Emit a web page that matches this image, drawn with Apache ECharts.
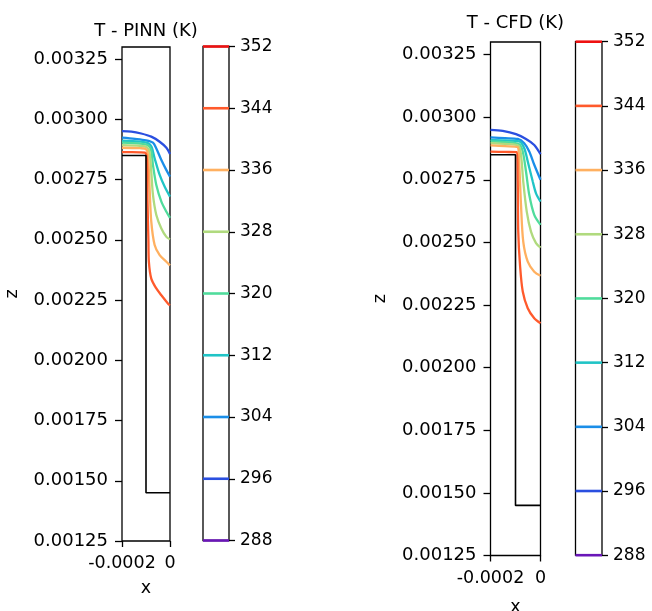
<!DOCTYPE html>
<html>
<head>
<meta charset="utf-8">
<script src="https://cdn.jsdelivr.net/npm/echarts@6/dist/echarts.min.js"></script>
<style>
html,body{margin:0;padding:0;background:#fff;}
#chart{width:652px;height:611px;}
</style>
</head>
<body>
<div id="chart"></div>
<script>
// ---------- data ----------
const titles = ['T - PINN (K)', 'T - CFD (K)'];
const xTicks = [-0.0002, 0];
const zTicks = [0.00125, 0.0015, 0.00175, 0.002, 0.00225, 0.0025, 0.00275, 0.003, 0.00325];
const cbarLevels = [288, 296, 304, 312, 320, 328, 336, 344, 352];
const cbarColors = ['#6a16b8', '#2a4fe0', '#1a8ee8', '#20c4c6', '#50dc9c', '#b0da7e', '#ffb060', '#ff5a2c', '#ee1111'];
const contourLevels = [296, 304, 312, 320, 328, 336, 344];

// geometry outline (solid boundary)
const geometry = [[-0.0002, 0.00285], [-0.0001, 0.00285], [-0.0001, 0.00145], [0, 0.00145]];

// PINN contour lines [x, z]
const pinn296 = [[-0.0002,0.002951],[-0.000161,0.002949],[-0.00012,0.002941],[-0.000078,0.002928],[-0.000043,0.002907],[-0.000015,0.002882],[0,0.002856]];
const pinn304 = [[-0.0002,0.002924],[-0.000146,0.002919],[-0.0001,0.002913],[-0.000071,0.002903],[-0.000057,0.002879],[-0.000036,0.002831],[-0.000015,0.002789],[0,0.002762]];
const pinn312 = [[-0.0002,0.002911],[-0.000125,0.002907],[-0.000092,0.002901],[-0.000077,0.002886],[-0.000064,0.002838],[-0.000043,0.002769],[-0.000022,0.00272],[0,0.002679]];
const pinn320 = [[-0.0002,0.002903],[-0.000125,0.002899],[-0.000092,0.002892],[-0.000079,0.002874],[-0.000071,0.00281],[-0.000057,0.002727],[-0.000036,0.002658],[-0.000015,0.002616],[0,0.002591]];
const pinn328 = [[-0.0002,0.002893],[-0.000125,0.00289],[-0.000096,0.002884],[-0.000085,0.002861],[-0.000078,0.002782],[-0.000071,0.002686],[-0.000057,0.002603],[-0.000036,0.002547],[-0.000015,0.002512],[0,0.002502]];
const pinn336 = [[-0.0002,0.002882],[-0.000125,0.00288],[-0.0001,0.002876],[-0.000092,0.002853],[-0.000085,0.002713],[-0.000078,0.002575],[-0.000064,0.002478],[-0.000043,0.002436],[-0.000015,0.002409],[0,0.002394]];
const pinn344 = [[-0.0002,0.002864],[-0.000125,0.002863],[-0.000104,0.002862],[-0.000096,0.002832],[-0.000094,0.002666],[-0.00009,0.0025],[-0.000088,0.002409],[-0.000078,0.002339],[-0.000057,0.002298],[-0.000036,0.00227],[-0.000008,0.002235],[0,0.002228]];

// CFD contour lines [x, z]
const cfd296 = [[-0.0002,0.002949],[-0.000151,0.002945],[-0.000098,0.002932],[-0.000058,0.002913],[-0.000025,0.002889],[0,0.002852]];
const cfd304 = [[-0.0002,0.002919],[-0.000142,0.002916],[-0.000091,0.002913],[-0.000065,0.002896],[-0.000045,0.002863],[-0.000025,0.00281],[0,0.00275]];
const cfd312 = [[-0.0002,0.002909],[-0.000142,0.002907],[-0.000085,0.002903],[-0.000065,0.002876],[-0.000051,0.002823],[-0.000031,0.002743],[-0.000018,0.002696],[0,0.002663]];
const cfd320 = [[-0.0002,0.002903],[-0.000142,0.0029],[-0.000085,0.002892],[-0.000071,0.002863],[-0.000058,0.002783],[-0.000045,0.00269],[-0.000025,0.00261],[0,0.00257]];
const cfd328 = [[-0.0002,0.002896],[-0.000142,0.002893],[-0.000089,0.002887],[-0.000078,0.002849],[-0.000069,0.002743],[-0.000055,0.002623],[-0.000038,0.002543],[-0.000018,0.002497],[0,0.002479]];
const cfd336 = [[-0.0002,0.002887],[-0.000142,0.002884],[-0.000091,0.00288],[-0.000085,0.00281],[-0.000078,0.00265],[-0.000069,0.002503],[-0.000051,0.002423],[-0.000025,0.002383],[0,0.002367]];
const cfd344 = [[-0.0002,0.002862],[-0.000142,0.002861],[-0.000095,0.00286],[-0.000091,0.002743],[-0.000089,0.002543],[-0.000082,0.00241],[-0.000071,0.002304],[-0.000051,0.002237],[-0.000025,0.002197],[0,0.002177]];

const pinnLines = [pinn296, pinn304, pinn312, pinn320, pinn328, pinn336, pinn344];
const cfdLines = [cfd296, cfd304, cfd312, cfd320, cfd328, cfd336, cfd344];

// ---------- chart ----------
const FONT = 'DejaVu Sans';
const chart = echarts.init(document.getElementById('chart'), null, {renderer: 'canvas'});

function colorFor(level) { return cbarColors[cbarLevels.indexOf(level)]; }

const grids = [
  {left: 122, top: 47, width: 48, height: 494},
  {left: 203, top: 46.5, width: 26, height: 494},
  {left: 490.5, top: 42, width: 50, height: 513.5},
  {left: 575.5, top: 41.7, width: 26.5, height: 513.5}
].map(g => Object.assign({show: true, borderColor: '#000', borderWidth: 1.3, backgroundColor: 'transparent',
  containLabel: false, outerBoundsMode: 'none'}, g));

function plotX(gi, labelMargin, nameGap) {
  return {
    type: 'value', gridIndex: gi, min: -0.0002, max: 0, interval: 0.0002, position: 'bottom',
    axisLine: {show: false, onZero: false}, splitLine: {show: false},
    axisTick: {show: true, inside: false, length: 6, lineStyle: {color: '#000', width: 1.3}, customValues: xTicks},
    axisLabel: {show: true, margin: labelMargin, fontFamily: FONT, fontSize: 17.5, color: '#000', customValues: xTicks,
      formatter: v => (Math.abs(v) < 1e-12 ? '0' : v.toFixed(4))},
    name: 'x', nameLocation: 'middle', nameGap: nameGap,
    nameTextStyle: {fontFamily: FONT, fontSize: 17.5, color: '#000'}
  };
}
function plotY(gi, nameGap) {
  return {
    type: 'value', gridIndex: gi, min: 0.00125, max: 0.0033, interval: 0.00025, position: 'left',
    axisLine: {show: false, onZero: false}, splitLine: {show: false},
    axisTick: {show: true, inside: false, length: 7, lineStyle: {color: '#000', width: 1.3}, customValues: zTicks},
    axisLabel: {show: true, margin: 14, fontFamily: FONT, fontSize: 18, color: '#000', customValues: zTicks,
      formatter: v => v.toFixed(5)},
    name: 'z', nameLocation: 'middle', nameGap: nameGap,
    nameTextStyle: {fontFamily: FONT, fontSize: 17.5, color: '#000'}
  };
}
function cbarX(gi) {
  return {type: 'value', gridIndex: gi, min: 0, max: 1, show: false};
}
function cbarY(gi) {
  return {
    type: 'value', gridIndex: gi, min: 288, max: 352, interval: 8, position: 'right',
    axisLine: {show: false, onZero: false}, splitLine: {show: false},
    axisTick: {show: true, inside: false, length: 6, lineStyle: {color: '#000', width: 1.3}},
    axisLabel: {show: true, margin: 11, fontFamily: FONT, fontSize: 17, color: '#000'}
  };
}

const series = [];
function addPanel(lines, plotIdx, cbarIdx) {
  contourLevels.forEach((lv, i) => {
    series.push({
      type: 'line', xAxisIndex: plotIdx, yAxisIndex: plotIdx, data: lines[i],
      showSymbol: false, symbol: 'none', smooth: 0.3, clip: true, silent: true,
      lineStyle: {color: colorFor(lv), width: 2.3}, z: 2
    });
  });
  series.push({
    type: 'line', xAxisIndex: plotIdx, yAxisIndex: plotIdx, data: geometry,
    showSymbol: false, symbol: 'none', clip: false, silent: true,
    lineStyle: {color: '#000', width: 1.6}, z: 3
  });
  cbarLevels.forEach((lv, i) => {
    series.push({
      type: 'line', xAxisIndex: cbarIdx, yAxisIndex: cbarIdx, data: [[0, lv], [1, lv]],
      showSymbol: false, symbol: 'none', clip: false, silent: true,
      lineStyle: {color: cbarColors[i], width: 2.6}, z: 2
    });
  });
}
addPanel(pinnLines, 0, 1);
addPanel(cfdLines, 2, 3);

const option = {
  animation: false,
  backgroundColor: '#fff',
  grid: grids,
  xAxis: [plotX(0, 13, 38), cbarX(1), plotX(2, 14, 43), cbarX(3)],
  yAxis: [plotY(0, 101), cbarY(1), plotY(2, 101), cbarY(3)],
  graphic: [
    {type: 'text', x: 146, y: 31, style: {text: titles[0], font: '18px "DejaVu Sans"', fill: '#000', align: 'center', verticalAlign: 'middle', textAlign: 'center', textVerticalAlign: 'middle'}},
    {type: 'text', x: 515.5, y: 23.5, style: {text: titles[1], font: '18px "DejaVu Sans"', fill: '#000', align: 'center', verticalAlign: 'middle', textAlign: 'center', textVerticalAlign: 'middle'}}
  ],
  series: series
};
chart.setOption(option);
</script>
</body>
</html>
